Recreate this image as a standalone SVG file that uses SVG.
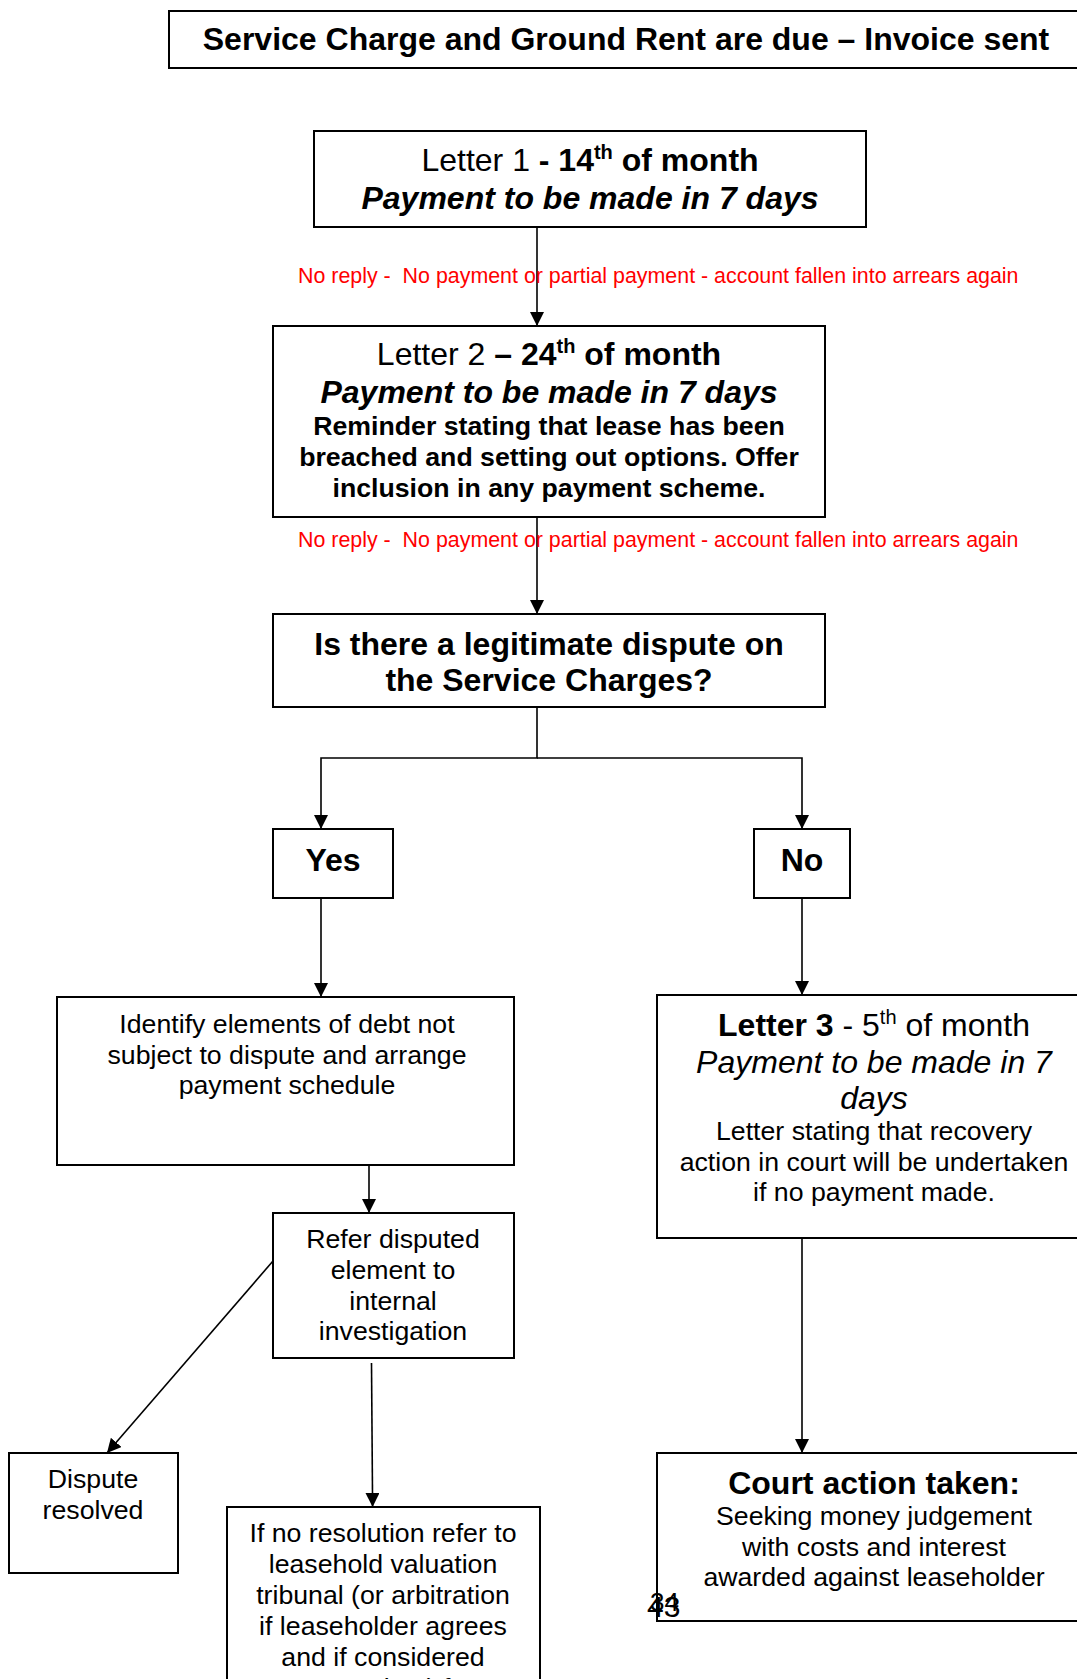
<svg xmlns="http://www.w3.org/2000/svg" width="1077" height="1679" viewBox="0 0 1077 1679">
<style>
  text { font-family: "Liberation Sans", Arial, sans-serif; fill: #000; }
  .box { fill: #fff; stroke: #000; stroke-width: 2; }
  .c { text-anchor: middle; }
  .t32 { font-size: 32px; }
  .t27 { font-size: 26.7px; }
  .b { font-weight: bold; }
  .i { font-style: italic; }
  .red { font-size: 21.4px; fill: #ff0000; white-space: pre; }
  .ln { fill: none; stroke: #000; stroke-width: 1.6; }
</style>
<defs>
  <marker id="ah" markerUnits="userSpaceOnUse" markerWidth="14" markerHeight="16" refX="14" refY="7" orient="auto">
    <path d="M0,0 L14,7 L0,14 Z" fill="#000"/>
  </marker>
</defs>
<rect width="1077" height="1679" fill="#fff"/>

<g id="title">
  <rect class="box" x="169" y="11" width="930" height="57"/>
  <text class="c t32 b" x="626" y="50">Service Charge and Ground Rent are due – Invoice sent</text>
</g>

<g id="letter1">
  <rect class="box" x="314" y="131" width="552" height="96"/>
  <text class="c t32" x="590" y="171">Letter 1 <tspan class="b">- 14</tspan><tspan class="b" font-size="20" dy="-12">th</tspan><tspan class="b" dy="12"> of month</tspan></text>
  <text class="c t32 b i" x="590" y="209">Payment to be made in 7 days</text>
</g>

<g id="letter2">
  <rect class="box" x="273" y="326" width="552" height="191"/>
  <text class="c t32" x="549" y="365">Letter 2 <tspan class="b">– 24</tspan><tspan class="b" font-size="20" dy="-12">th</tspan><tspan class="b" dy="12"> of month</tspan></text>
  <text class="c t32 b i" x="549" y="403">Payment to be made in 7 days</text>
  <text class="c t27 b" x="549" y="435">Reminder stating that lease has been</text>
  <text class="c t27 b" x="549" y="466">breached and setting out options. Offer</text>
  <text class="c t27 b" x="549" y="497">inclusion in any payment scheme.</text>
</g>

<g id="dispute">
  <rect class="box" x="273" y="614" width="552" height="93"/>
  <text class="c t32 b" x="549" y="655">Is there a legitimate dispute on</text>
  <text class="c t32 b" x="549" y="691">the Service Charges?</text>
</g>

<g id="yes">
  <rect class="box" x="273" y="829" width="120" height="69"/>
  <text class="c t32 b" x="333" y="871">Yes</text>
</g>

<g id="no">
  <rect class="box" x="754" y="829" width="96" height="69"/>
  <text class="c t32 b" x="802" y="871">No</text>
</g>

<g id="identify">
  <rect class="box" x="57" y="997" width="457" height="168"/>
  <text class="c t27" x="287" y="1033">Identify elements of debt not</text>
  <text class="c t27" x="287" y="1064">subject to dispute and arrange</text>
  <text class="c t27" x="287" y="1094">payment schedule</text>
</g>

<g id="refer">
  <rect class="box" x="273" y="1213" width="241" height="145"/>
  <text class="c t27" x="393" y="1248">Refer disputed</text>
  <text class="c t27" x="393" y="1279">element to</text>
  <text class="c t27" x="393" y="1310">internal</text>
  <text class="c t27" x="393" y="1340">investigation</text>
</g>

<g id="resolved">
  <rect class="box" x="9" y="1453" width="169" height="120"/>
  <text class="c t27" x="93" y="1488">Dispute</text>
  <text class="c t27" x="93" y="1519">resolved</text>
</g>

<g id="tribunal">
  <rect class="box" x="227" y="1507" width="313" height="220"/>
  <text class="c t27" x="383" y="1542">If no resolution refer to</text>
  <text class="c t27" x="383" y="1573">leasehold valuation</text>
  <text class="c t27" x="383" y="1604">tribunal (or arbitration</text>
  <text class="c t27" x="383" y="1635">if leaseholder agrees</text>
  <text class="c t27" x="383" y="1666">and if considered</text>
  <text class="c t27" x="383" y="1697">appropriate) for</text>
</g>

<g id="letter3">
  <rect class="box" x="657" y="995" width="440" height="243"/>
  <text class="c t32" x="874" y="1036"><tspan class="b">Letter 3</tspan> - 5<tspan font-size="20" dy="-12">th</tspan><tspan dy="12"> of month</tspan></text>
  <text class="c t32 i" x="874" y="1073">Payment to be made in 7</text>
  <text class="c t32 i" x="874" y="1109">days</text>
  <text class="c t27" x="874" y="1140">Letter stating that recovery</text>
  <text class="c t27" x="874" y="1171">action in court will be undertaken</text>
  <text class="c t27" x="874" y="1201">if no payment made.</text>
</g>

<g id="court">
  <rect class="box" x="657" y="1453" width="440" height="168"/>
  <text class="c t32 b" x="874" y="1494">Court action taken:</text>
  <text class="c t27" x="874" y="1525">Seeking money judgement</text>
  <text class="c t27" x="874" y="1556">with costs and interest</text>
  <text class="c t27" x="874" y="1586">awarded against leaseholder</text>
</g>

<g id="page-number">
  <text font-size="30" x="647" y="1617">43</text>
  <text font-size="26" x="650" y="1611">34</text>
</g>

<g id="connectors">
  <line class="ln" x1="537" y1="227" x2="537" y2="326" marker-end="url(#ah)"/>
  <text class="red" x="298" y="283" xml:space="preserve">No reply -  No payment or partial payment - account fallen into arrears again</text>
  <line class="ln" x1="537" y1="517" x2="537" y2="614" marker-end="url(#ah)"/>
  <text class="red" x="298" y="547" xml:space="preserve">No reply -  No payment or partial payment - account fallen into arrears again</text>
  <polyline class="ln" points="537,707 537,758 321,758 321,829" marker-end="url(#ah)"/>
  <polyline class="ln" points="537,758 802,758 802,829" marker-end="url(#ah)"/>
  <line class="ln" x1="321" y1="898" x2="321" y2="997" marker-end="url(#ah)"/>
  <line class="ln" x1="369" y1="1165" x2="369" y2="1213" marker-end="url(#ah)"/>
  <line class="ln" x1="273" y1="1261" x2="107" y2="1453" marker-end="url(#ah)"/>
  <line class="ln" x1="371.5" y1="1363" x2="372.6" y2="1507" marker-end="url(#ah)"/>
  <line class="ln" x1="802" y1="898" x2="802" y2="995" marker-end="url(#ah)"/>
  <line class="ln" x1="802" y1="1238" x2="802" y2="1453" marker-end="url(#ah)"/>
</g>
</svg>
